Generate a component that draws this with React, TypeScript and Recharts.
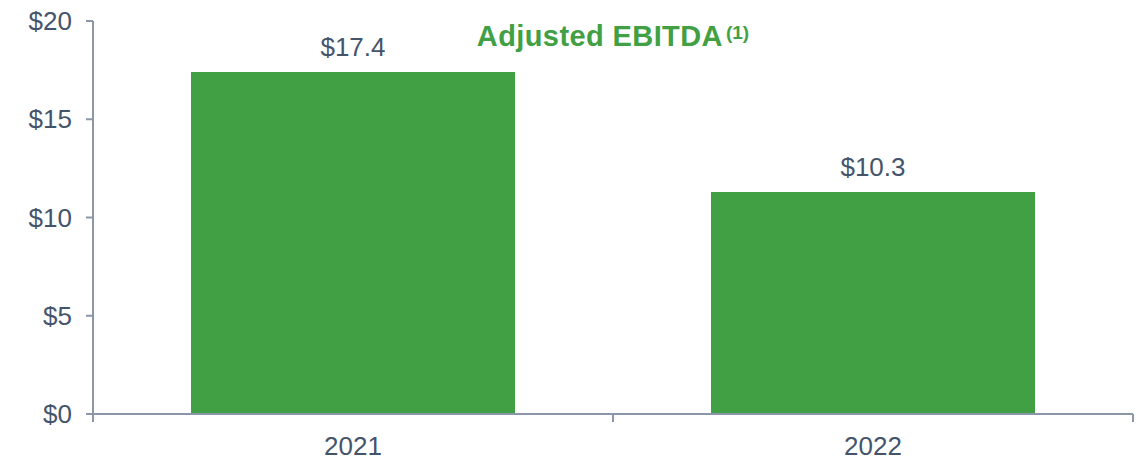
import { BarChart, Bar, XAxis, YAxis, LabelList } from 'recharts';

const years = ['2021', '2022'];
const ebitda = [17.4, 11.3];
const ebitdaLabels = ['$17.4', '$10.3'];
const yTicks = [0, 5, 10, 15, 20];

const data = years.map((year, i) => ({ year, value: ebitda[i], label: ebitdaLabels[i] }));

const FONT = '"Liberation Sans", Arial, sans-serif';
const TEXT = '#44546A';
const AXIS = '#8C96A9';
const GREEN = '#42A044';
const TICK_SIZE = 8;
const TICK_MARGIN = 15;

function YearTick(props: any) {
    const { x, y, payload, index } = props;
    const half = payload && payload.offset ? payload.offset : 260;
    const top = y - TICK_MARGIN - TICK_SIZE;
    const bottom = y - TICK_MARGIN;
    return (
        <g>
            <line x1={x - half} x2={x - half} y1={top} y2={bottom} stroke={AXIS} strokeWidth={2} />
            {index === years.length - 1 && (
                <line x1={x + half} x2={x + half} y1={top} y2={bottom} stroke={AXIS} strokeWidth={2} />
            )}
            <text x={x} y={y} dy="0.71em" textAnchor="middle" fill={TEXT} fontSize={26} fontFamily={FONT}>
                {payload.value}
            </text>
        </g>
    );
}

export default function App() {
    return (
        <div style={{ position: 'absolute', left: 0, top: 0, width: 1140, height: 461, background: '#fff' }}>
            <BarChart
                width={1140}
                height={461}
                data={data}
                margin={{ top: 21, right: 7, left: 0, bottom: 0 }}
            >
                <XAxis
                    dataKey="year"
                    height={47}
                    tickLine={false}
                    tickSize={TICK_SIZE}
                    tickMargin={TICK_MARGIN}
                    axisLine={{ stroke: AXIS, strokeWidth: 2 }}
                    tick={<YearTick />}
                    interval={0}
                />
                <YAxis
                    width={93}
                    domain={[0, 20]}
                    ticks={yTicks}
                    interval={0}
                    tickFormatter={(v: number) => `$${v}`}
                    tickSize={7}
                    tickMargin={14}
                    axisLine={{ stroke: AXIS, strokeWidth: 2 }}
                    tickLine={{ stroke: AXIS, strokeWidth: 2 }}
                    tick={{ fill: TEXT, fontSize: 26, fontFamily: FONT }}
                />
                <Bar dataKey="value" fill={GREEN} barSize={324} isAnimationActive={false}>
                    <LabelList
                        dataKey="label"
                        position="top"
                        offset={16}
                        fill={TEXT}
                        fontSize={26}
                        fontFamily={FONT}
                    />
                </Bar>
            </BarChart>
            <div
                style={{
                    position: 'absolute',
                    left: 93,
                    width: 1040,
                    top: 22,
                    textAlign: 'center',
                    fontFamily: FONT,
                    fontWeight: 'bold',
                    fontSize: 29,
                    lineHeight: '28px',
                    color: GREEN,
                    letterSpacing: 0.4,
                    whiteSpace: 'nowrap',
                }}
            >
                Adjusted EBITDA
                <span style={{ fontSize: 19, position: 'relative', top: -7, marginLeft: 3, letterSpacing: 0 }}>(1)</span>
            </div>
        </div>
    );
}
